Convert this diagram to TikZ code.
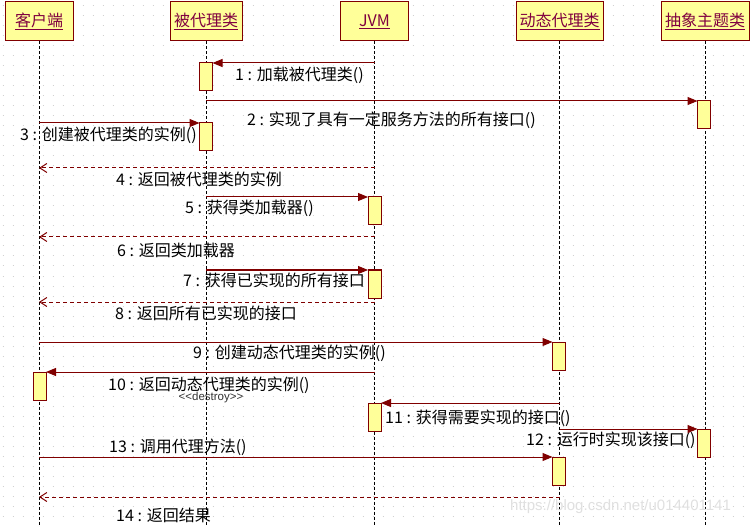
\documentclass[tikz,border=0pt]{standalone}
\usepackage{fontspec}
\newfontfamily\cjk{Noto Sans CJK SC}
\newfontfamily\wmfont{Liberation Sans}
\usetikzlibrary{arrows.meta}
\definecolor{boxfill}{HTML}{FFFF99}
\definecolor{boxline}{HTML}{800000}
\definecolor{headtext}{HTML}{800040}
\definecolor{msgline}{HTML}{800000}
\definecolor{dotc}{HTML}{D0D0D0}
\begin{document}
\begin{tikzpicture}[x=1pt,y=-1pt,
 header/.style={draw=boxline,fill=boxfill,line width=1pt,minimum height=39pt,inner sep=0pt,font=\cjk\fontsize{16}{16}\selectfont,text=headtext},
 actbox/.style={draw=boxline,fill=boxfill,line width=1pt,minimum width=12pt,minimum height=27pt,inner sep=0pt,anchor=north},
 lifeline/.style={black,line width=1pt,dash pattern=on 3pt off 2pt},
 callmsg/.style={msgline,line width=1pt,-{Triangle[length=10pt,width=8pt]}},
 retmsg/.style={msgline,line width=1pt,dash pattern=on 4pt off 3pt,-{Straight Barb[length=7pt,width=9pt]}},
 msglabel/.style={anchor=west,inner sep=0pt,font=\cjk\fontsize{16}{16}\selectfont,text=black},
]
\useasboundingbox (0,0) rectangle (751,526);
\fill[white] (0,0) rectangle (751,526);
\foreach \gy in {6,16,...,526} \draw[dotc,line width=1pt,dash pattern=on 1pt off 9pt] (2.5,\gy) -- (751,\gy);
\coordinate (bot) at (0,526);
% headers
\node[header,minimum width=68pt] (hc) at (39,21.5) {\underline{客户端}};
\node[header,minimum width=72pt] (hp) at (206,21.5) {\underline{被代理类}};
\node[header,minimum width=68pt] (hj) at (374.5,21.5) {\underline{JVM}};
\node[header,minimum width=87pt] (hd) at (559.5,21.5) {\underline{动态代理类}};
\node[header,minimum width=88pt] (ha) at (705,21.5) {\underline{抽象主题类}};
% lifelines
\foreach \h in {hc,hp,hj,hd,ha} \draw[lifeline] (\h.south) -- (\h.south |- bot);
% return message rows
\coordinate (r4) at (0,168);
\coordinate (r6) at (0,237);
\coordinate (r8) at (0,302);
\coordinate (r14) at (0,497);
% activation boxes
\node[actbox] (a1) at (206,63) {};
\node[actbox] (a2) at (704,101) {};
\node[actbox] (a3) at (206,123) {};
\node[actbox] (a5) at (374.5,197) {};
\node[actbox] (a7) at (374.5,270) {};
\node[actbox] (a9) at (559,342) {};
\node[actbox] (a10) at (39.5,372) {};
\node[actbox] (a11) at (374.5,403) {};
\node[actbox] (a12) at (704,429) {};
\node[actbox] (a13) at (559,457) {};
% labels
\node[msglabel] (l1) at (235,75) {1 : 加载被代理类()};
\node[msglabel] (l2) at (247,120) {2 : 实现了具有一定服务方法的所有接口()};
\node[msglabel] (l3) at (20,135) {3 : 创建被代理类的实例()};
\node[msglabel] (l4) at (116,179) {4 : 返回被代理类的实例};
\node[msglabel] (l5) at (185,208) {5 : 获得类加载器()};
\node[msglabel] (l6) at (117,250) {6 : 返回类加载器};
\node[msglabel] (l7) at (183,280) {7 : 获得已实现的所有接口};
\node[msglabel] (l8) at (115,313) {8 : 返回所有已实现的接口};
\node[msglabel] (l9) at (193,353) {9 : 创建动态代理类的实例()};
\node[msglabel] (l10) at (108,385) {10 : 返回动态代理类的实例()};
\node[inner sep=0pt,font=\wmfont\fontsize{11.5}{11.5}\selectfont,text=black!80] (ld) at (211,398) {<<destroy>>};
\node[msglabel] (l11) at (385,418) {11 : 获得需要实现的接口()};
\node[msglabel] (l12) at (526,440) {12 : 运行时实现该接口()};
\node[msglabel] (l13) at (109,447) {13 : 调用代理方法()};
\node[msglabel] (l14) at (116,515) {14 : 返回结果};
% redraw activation boxes on top of labels
\foreach \a in {a1,a2,a3,a5,a7,a9,a10,a11,a12,a13} \draw[boxline,fill=boxfill,line width=1pt] (\a.north west) rectangle (\a.south east);
% messages
\draw[callmsg] (hj.south |- a1.north) -- (a1.north east);
\draw[callmsg] (hp.south |- a2.north) -- (a2.north west);
\draw[callmsg] (hc.south |- a3.north) -- (a3.north west);
\draw[retmsg] (hj.south |- r4) -- (hc.south |- r4);
\draw[callmsg] (hp.south |- a5.north) -- (a5.north west);
\draw[retmsg] (hj.south |- r6) -- (hc.south |- r6);
\draw[callmsg] (hp.south |- a7.north) -- (a7.north west);
\draw[retmsg] (hj.south |- r8) -- (hc.south |- r8);
\draw[callmsg] (hc.south |- a9.north) -- (a9.north west);
\draw[callmsg] (hj.south |- a10.north) -- (a10.north east);
\draw[callmsg] (hd.south |- a11.north) -- (a11.north east);
\draw[callmsg] (hd.south |- a12.north) -- (a12.north west);
\draw[callmsg] (hc.south |- a13.north) -- (a13.north west);
\draw[retmsg] (hd.south |- r14) -- (hc.south |- r14);
% watermark
\node[anchor=west,inner sep=0pt,font=\wmfont\fontsize{15}{15}\selectfont,text=black!12] (wm) at (510,507) {https://blog.csdn.net/u014401141};
\end{tikzpicture}
\end{document}
